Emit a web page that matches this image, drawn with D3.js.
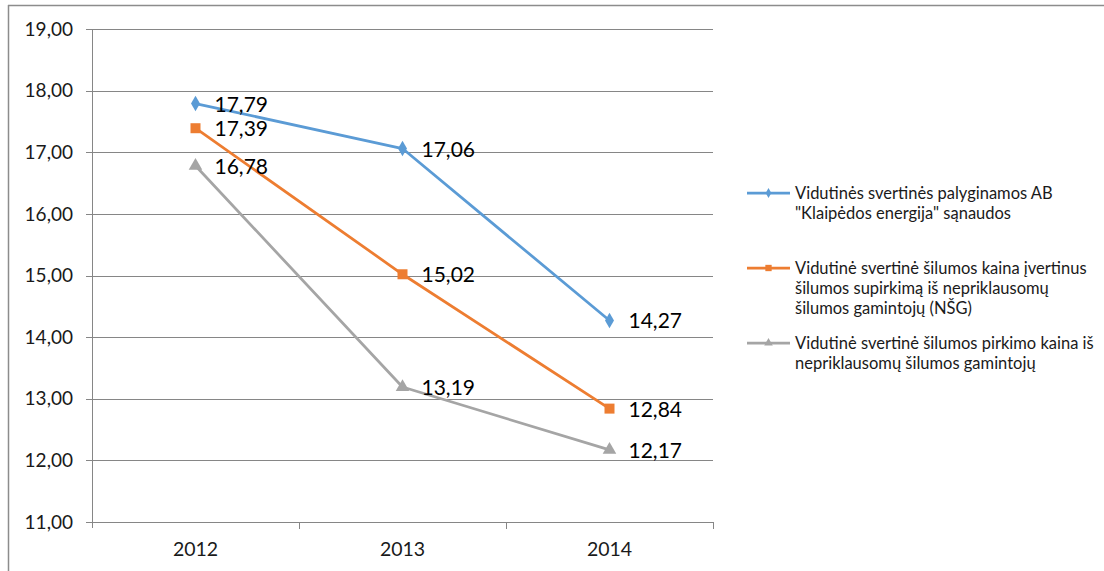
<!DOCTYPE html>
<html>
<head>
<meta charset="utf-8">
<script src="https://cdn.jsdelivr.net/npm/d3@7"></script>
<style>
  body { margin: 0; background: #fff; }
  svg { font-family: Lato, "Liberation Sans", sans-serif; }
</style>
</head>
<body>
<div id="chart"></div>
<script>
// chart data
var years = ["2012", "2013", "2014"];
var seriesNames = [
  ["Vidutinės svertinės palyginamos AB", "\"Klaipėdos energija\" sąnaudos"],
  ["Vidutinė svertinė šilumos kaina įvertinus", "šilumos supirkimą iš nepriklausomų", "šilumos gamintojų (NŠG)"],
  ["Vidutinė svertinė šilumos pirkimo kaina iš", "nepriklausomų šilumos gamintojų"]
];
var blueValues = [17.79, 17.06, 14.27];
var orangeValues = [17.39, 15.02, 12.84];
var grayValues = [16.78, 13.19, 12.17];
var yTicks = [11, 12, 13, 14, 15, 16, 17, 18, 19];

var svgWidth = 1104;
var svgHeight = 571;

var margin = { top: 29, left: 92, plotWidth: 621, plotHeight: 493 };

var svg = d3.select("#chart")
  .append("svg")
  .attr("width", svgWidth)
  .attr("height", svgHeight);

// outer frame (only top + left visible)
svg.append("line").attr("x1", 8).attr("x2", svgWidth).attr("y1", 5.5).attr("y2", 5.5)
  .attr("stroke", "#8c8c8c").attr("stroke-width", 1.5);
svg.append("line").attr("x1", 8.5).attr("x2", 8.5).attr("y1", 5).attr("y2", svgHeight)
  .attr("stroke", "#8c8c8c").attr("stroke-width", 1.5);

var chartGroup = svg.append("g")
  .attr("transform", `translate(${margin.left}, ${margin.top})`);

var xScale = d3.scaleBand()
  .domain(years)
  .range([0, margin.plotWidth]);

var yScale = d3.scaleLinear()
  .domain([11, 19])
  .range([margin.plotHeight, 0]);

// gridlines + y labels
chartGroup.selectAll(".grid")
  .data(yTicks)
  .enter()
  .append("line")
  .attr("x1", -6)
  .attr("x2", margin.plotWidth)
  .attr("y1", d => Math.round(yScale(d)) + 0.5)
  .attr("y2", d => Math.round(yScale(d)) + 0.5)
  .attr("stroke", "#868686")
  .attr("stroke-width", 1);

chartGroup.selectAll(".ylab")
  .data(yTicks)
  .enter()
  .append("text")
  .attr("x", -19)
  .attr("y", d => yScale(d))
  .attr("dy", "0.35em")
  .attr("text-anchor", "end")
  .style("font-size", "19px")
  .attr("fill", "#1a1a1a")
  .text(d => d3.format(".2f")(d).replace(".", ","));

// y axis line
chartGroup.append("line")
  .attr("x1", 0.5).attr("x2", 0.5)
  .attr("y1", 0).attr("y2", margin.plotHeight + 6)
  .attr("stroke", "#868686");

// x axis category ticks
var bounds = years.map(d => xScale(d) + xScale.bandwidth());
chartGroup.selectAll(".xtick")
  .data(bounds)
  .enter()
  .append("line")
  .attr("x1", d => Math.round(d) + 0.5)
  .attr("x2", d => Math.round(d) + 0.5)
  .attr("y1", margin.plotHeight)
  .attr("y2", margin.plotHeight + 7)
  .attr("stroke", "#868686");

chartGroup.selectAll(".xlab")
  .data(years)
  .enter()
  .append("text")
  .attr("x", d => xScale(d) + xScale.bandwidth() / 2)
  .attr("y", margin.plotHeight + 34)
  .attr("text-anchor", "middle")
  .style("font-size", "19.5px")
  .attr("fill", "#1a1a1a")
  .text(d => d);

var series = [
  { values: blueValues, color: "#5b9bd5", marker: d3.symbolDiamond, size: 70 },
  { values: orangeValues, color: "#ed7d31", marker: d3.symbolSquare, size: 100 },
  { values: grayValues, color: "#a5a5a5", marker: d3.symbolTriangle, size: 80 }
];

var line = d3.line()
  .x((d, i) => xScale(years[i]) + xScale.bandwidth() / 2)
  .y(d => yScale(d));

series.forEach(function(s) {
  chartGroup.append("path")
    .attr("d", line(s.values))
    .attr("fill", "none")
    .attr("stroke", s.color)
    .attr("stroke-width", 2.75)
    .attr("stroke-linejoin", "round");

  chartGroup.selectAll(null)
    .data(s.values)
    .enter()
    .append("path")
    .attr("transform", (d, i) => `translate(${xScale(years[i]) + xScale.bandwidth() / 2}, ${yScale(d)})`)
    .attr("d", d3.symbol().type(s.marker).size(s.size))
    .attr("fill", s.color);

  chartGroup.selectAll(null)
    .data(s.values)
    .enter()
    .append("text")
    .attr("x", (d, i) => xScale(years[i]) + xScale.bandwidth() / 2 + 19)
    .attr("y", d => yScale(d))
    .attr("dy", "0.38em")
    .style("font-size", "21px")
    .attr("fill", "#000")
    .text(d => d3.format(".2f")(d).replace(".", ","));
});

// legend
var legendY = [193, 268, 343];
var legend = svg.append("g");
series.forEach(function(s, i) {
  var y = legendY[i];
  legend.append("line")
    .attr("x1", 747).attr("x2", 790)
    .attr("y1", y).attr("y2", y)
    .attr("stroke", s.color)
    .attr("stroke-width", 2.75);
  legend.append("path")
    .attr("transform", `translate(768.5, ${y})`)
    .attr("d", d3.symbol().type(s.marker).size(s.size * 0.4))
    .attr("fill", s.color);
  seriesNames[i].forEach(function(t, j) {
    legend.append("text")
      .attr("x", 795)
      .attr("y", y + j * 20)
      .attr("dy", "0.35em")
      .style("font-size", "16.5px")
      .attr("fill", "#1a1a1a")
      .text(t);
  });
});
</script>
</body>
</html>
